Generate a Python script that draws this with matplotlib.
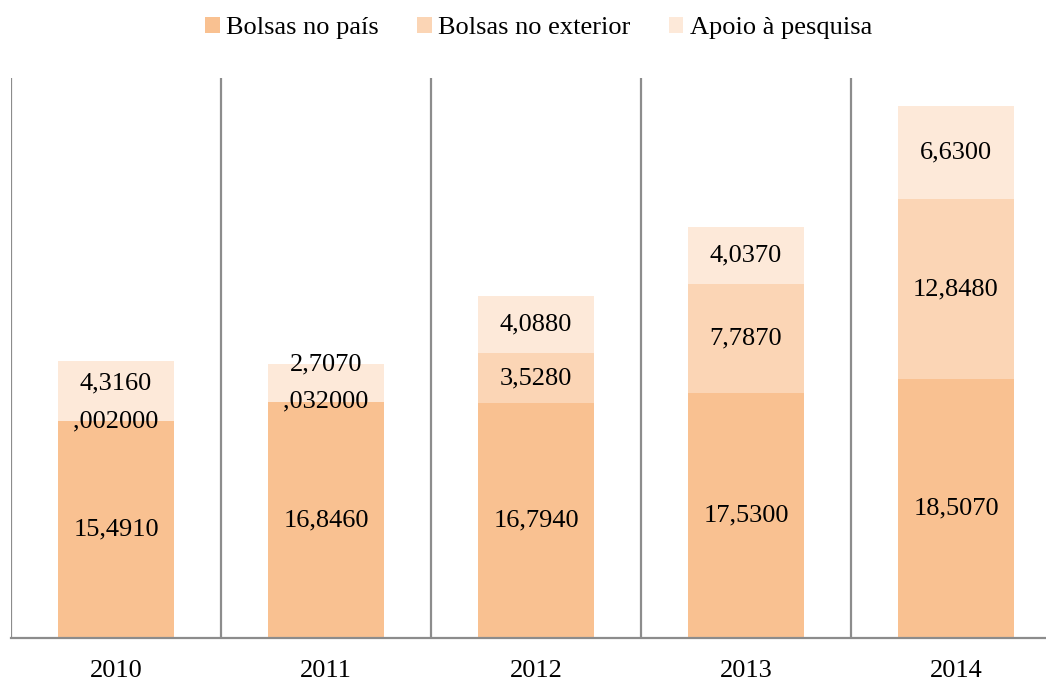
import matplotlib
matplotlib.use("Agg")
import matplotlib.pyplot as plt
from matplotlib.patches import Patch

years = ["2010", "2011", "2012", "2013", "2014"]
bolsas_pais = [15.491, 16.846, 16.794, 17.530, 18.507]
bolsas_exterior = [0.002, 0.032, 3.528, 7.787, 12.848]
apoio_pesquisa = [4.316, 2.707, 4.088, 4.037, 6.630]

series_names = ["Bolsas no país", "Bolsas no exterior", "Apoio à pesquisa"]
colors = ["#F9C191", "#FBD5B5", "#FDE9D9"]

plt.rcParams['font.family'] = ['Liberation Serif', 'DejaVu Serif']
FS = 19


def fmt(v):
    if v >= 1:
        return f"{v:.4f}".replace('.', ',')
    return f"{v:.6f}"[1:].replace('.', ',')


fig = plt.figure(figsize=(10.46, 6.81), dpi=100)
W, H = 1046, 681
ax = fig.add_axes([11 / W, (H - 638) / H, 1050 / W, 560 / H])

x = list(range(len(years)))
width = 0.557
bottom = [0.0] * len(years)
label_pos = []
for vals, col in zip([bolsas_pais, bolsas_exterior, apoio_pesquisa], colors):
    ax.bar(x, vals, width, bottom=bottom, color=col, edgecolor='none', zorder=2)
    centers = [b + v / 2 for b, v in zip(bottom, vals)]
    label_pos.append(centers)
    bottom = [b + v for b, v in zip(bottom, vals)]

# label placement (avoid overlaps like the original)
for i in range(len(years)):
    ypais = label_pos[0][i]
    yext = label_pos[1][i]
    yap = max(label_pos[2][i], yext + 2.7)
    ax.text(x[i], ypais, fmt(bolsas_pais[i]), ha='center', va='center', fontsize=FS, zorder=3)
    ax.text(x[i], yext, fmt(bolsas_exterior[i]), ha='center', va='center', fontsize=FS, zorder=3)
    ax.text(x[i], yap, fmt(apoio_pesquisa[i]), ha='center', va='center', fontsize=FS, zorder=3)

ax.set_xlim(-0.5, len(years) - 0.5)
ax.set_ylim(0, 40)
ax.set_xticks(x)
ax.set_xticklabels(years, fontsize=FS)
ax.tick_params(axis='x', length=0, pad=16)
ax.set_yticks([])
for b in [i - 0.5 for i in range(len(years) + 1)]:
    ax.axvline(b, color='#8C8C8C', lw=1.6, zorder=1)
for s in ['top', 'right', 'left']:
    ax.spines[s].set_visible(False)
ax.spines['bottom'].set_color('#8C8C8C')
ax.spines['bottom'].set_linewidth(1.6)

handles = [Patch(facecolor=c, edgecolor='none') for c in colors]
fig.legend(handles, series_names, loc='center', bbox_to_anchor=(0.515, 1 - 28 / H),
           ncol=3, frameon=False, fontsize=FS, handlelength=0.55, handleheight=0.6,
           handletextpad=0.25, columnspacing=1.45)

fig.savefig("out.png", dpi=100)
